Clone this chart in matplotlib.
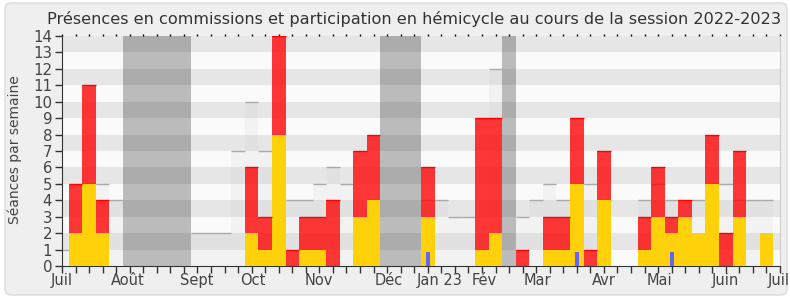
import matplotlib.pyplot as plt
import numpy as np
from matplotlib.patches import FancyBboxPatch

# une barre par semaine, de juillet 2022 a juillet 2023
semaines = np.arange(53)
hemicycle = [0, 2, 5, 2, 0, 0, 0, 0, 0, 0, 0, 0, 0, 0, 2, 1, 8, 0, 1, 1, 0, 0, 3, 4, 0, 0, 0,
             3, 0, 0, 0, 1, 2, 0, 0, 0, 1, 1, 5, 0, 4, 0, 0, 1, 3, 2, 3, 2, 5, 0, 3, 0, 2]
commission = [0, 3, 6, 2, 0, 0, 0, 0, 0, 0, 0, 0, 0, 0, 4, 2, 6, 1, 2, 2, 4, 0, 4, 4, 0, 0, 0,
              3, 0, 0, 0, 8, 7, 0, 1, 0, 2, 2, 4, 1, 3, 0, 0, 2, 3, 1, 1, 0, 3, 2, 4, 0, 0]
seances = [1, 2, 5, 5, 4, 0, 0, 0, 0, 0, 2, 2, 2, 7, 10, 7, 8, 4, 4, 5, 6, 5, 3, 4, 0, 0, 0,
           4, 4, 3, 3, 1, 12, 0, 3, 4, 5, 4, 5, 5, 4, 0, 0, 4, 5, 4, 3, 4, 5, 5, 4, 4, 4]
questions = [0] * 53
questions[27] = 0.85
questions[38] = 0.85
questions[45] = 0.85
vacances = [(4.5, 9.5), (23.5, 26.5), (32.5, 33.5)]

mois = ['Juil', 'Août', 'Sept', 'Oct', 'Nov', 'Déc', 'Jan 23', 'Fév', 'Mar', 'Avr', 'Mai', 'Juin', 'Juil']
mois_pos = [0, 4.88, 9.96, 14.07, 18.97, 24.1, 27.9, 31.2, 35.1, 40.0, 44.1, 49.0, 52.9]

hemicycle = np.array(hemicycle)
commission = np.array(commission)
seances = np.array(seances)
questions = np.array(questions)

fig = plt.figure(figsize=(7.9, 3.0), dpi=100)
fig.patch.set_facecolor('white')
fond = FancyBboxPatch((5, 5), 782, 292, boxstyle='round,pad=0,rounding_size=6',
                      transform=None, fc='#efefef', ec='#dcdcdc', lw=1, zorder=-10)
fig.add_artist(fond)

ax = fig.add_axes([62 / 790, 34 / 300, 718 / 790, 230 / 300])
ax.set_facecolor('none')

# bandes horizontales
for k in range(14):
    ax.axhspan(k, k + 1, color='#e6e6e6' if k % 2 else '#fafafa', lw=0, zorder=0)
for a, b in vacances:
    ax.axvspan(a, b, color='black', alpha=0.25, lw=0, zorder=1)

m = seances > 0
ax.bar(semaines[m], seances[m], width=1, color='#c8c8c8', alpha=0.15, lw=0, zorder=2)
ax.hlines(seances[m], semaines[m] - 0.5, semaines[m] + 0.5, color='#aaaaaa', lw=1, zorder=2)

ax.bar(semaines, hemicycle, width=1, color='#ffd10a', lw=0, zorder=3)
ax.bar(semaines, commission, width=1, bottom=hemicycle, color='#ff0000', alpha=0.78, lw=0, zorder=3)
m = commission > 0
ax.hlines((hemicycle + commission)[m], semaines[m] - 0.5, semaines[m] + 0.5,
          color='#ff0000', lw=1, zorder=3)
ax.bar(semaines, questions, width=0.3, color='#6464ff', lw=0, zorder=4)

ax.set_xlim(0, 53)
ax.set_ylim(0, 14)
ax.set_yticks(range(15))
ax.set_xticks(range(54))
ax.set_xticklabels([])
ax.tick_params(axis='x', length=5, width=1, color='#333333')
ax.tick_params(axis='y', length=5, width=1, color='#333333', labelsize=10.8, labelcolor='#444444', pad=2)
for nom, p in zip(mois, mois_pos):
    ax.text(p, -0.03, nom, transform=ax.get_xaxis_transform(), ha='center', va='top',
            fontsize=10.5, color='#444444', clip_on=False)

for s in ['left', 'bottom']:
    ax.spines[s].set_color('#333333')
ax.spines['top'].set_visible(False)
ax.spines['right'].set_color('#cccccc')

haut = ax.secondary_xaxis('top')
haut.set_xticks(range(54))
haut.set_xticklabels([])
haut.tick_params(length=1.5, width=1, color='black')
haut.spines['top'].set_visible(False)

fig.text(0.524, 0.937, 'Présences en commissions et participation en hémicycle au cours de la session 2022-2023',
         ha='center', va='center', fontsize=11.6, color='#333333')
fig.text(15 / 790, 0.5, 'Séances par semaine', rotation=90, ha='center', va='center',
         fontsize=10, color='#444444')

fig.savefig('out.png', dpi=100)
